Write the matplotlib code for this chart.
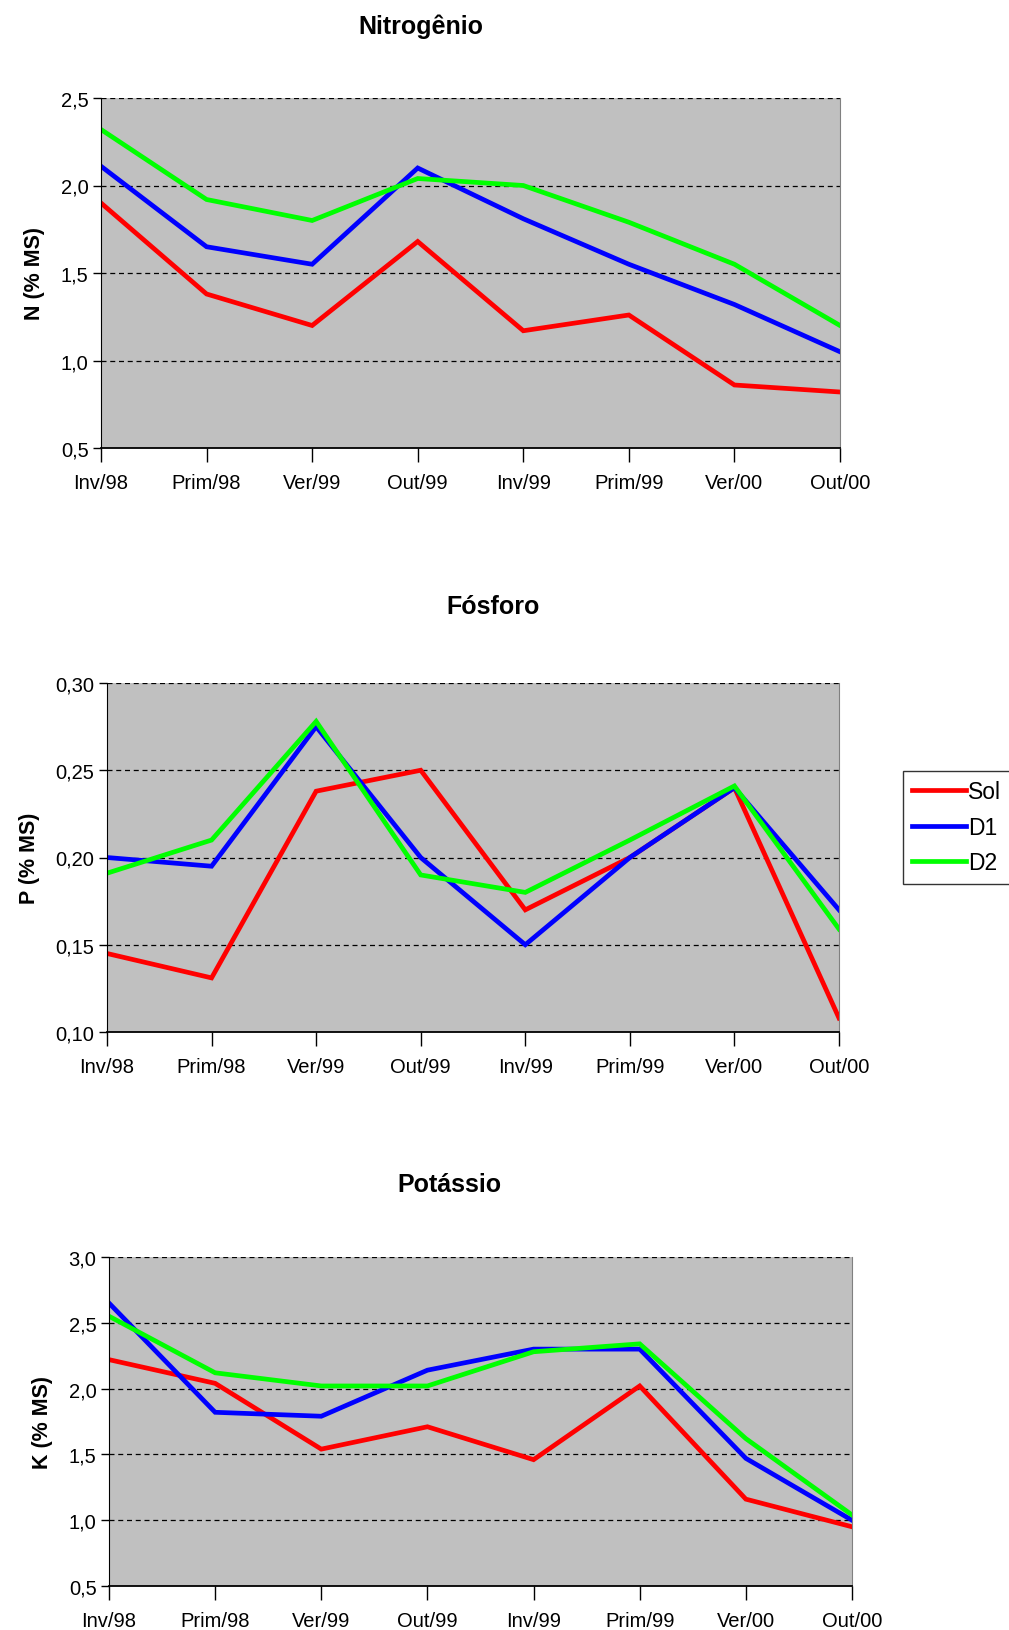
import numpy as np
import matplotlib.pyplot as plt
from matplotlib.lines import Line2D

plt.rcParams['font.family'] = ['Liberation Sans', 'DejaVu Sans']

periods = ['Inv/98', 'Prim/98', 'Ver/99', 'Out/99', 'Inv/99', 'Prim/99', 'Ver/00', 'Out/00']

# Nitrogenio (% MS)
n_sol = [1.90, 1.38, 1.20, 1.68, 1.17, 1.26, 0.86, 0.82]
n_d1 = [2.11, 1.65, 1.55, 2.10, 1.81, 1.55, 1.32, 1.05]
n_d2 = [2.32, 1.92, 1.80, 2.04, 2.00, 1.79, 1.55, 1.20]

# Fosforo (% MS)
p_sol = [0.145, 0.131, 0.238, 0.250, 0.170, 0.200, 0.240, 0.108]
p_d1 = [0.200, 0.195, 0.275, 0.200, 0.150, 0.200, 0.240, 0.170]
p_d2 = [0.191, 0.210, 0.278, 0.190, 0.180, 0.210, 0.241, 0.159]

# Potassio (% MS)
k_sol = [2.22, 2.04, 1.54, 1.71, 1.46, 2.02, 1.16, 0.95]
k_d1 = [2.65, 1.82, 1.79, 2.14, 2.30, 2.30, 1.47, 1.00]
k_d2 = [2.55, 2.12, 2.02, 2.02, 2.28, 2.34, 1.62, 1.04]

series_names = ['Sol', 'D1', 'D2']
colors = ['#FF0000', '#0000FF', '#00FF00']

W, H = 1009, 1631
fig = plt.figure(figsize=(W / 100, H / 100), dpi=100)


def px_axes(left, top, right, bottom):
    return fig.add_axes([left / W, 1 - bottom / H, (right - left) / W, (bottom - top) / H])


def draw_panel(ax, title, ylabel, data, yticks, fmt, title_x, title_y):
    x = np.arange(len(periods))
    ax.set_facecolor('#C0C0C0')
    for vals, c in zip(data, colors):
        ax.plot(x, vals, color=c, lw=3.4, solid_joinstyle='miter')
    ax.set_xlim(0, len(periods) - 1)
    ax.set_ylim(yticks[0], yticks[-1])
    ax.set_yticks(yticks)
    ax.set_yticklabels([fmt.format(v).replace('.', ',') for v in yticks])
    ax.set_xticks(x)
    ax.set_xticklabels(periods)
    for v in yticks[1:]:
        ax.axhline(v, color='black', lw=0.9, ls=(0, (4, 3)), zorder=0.5)
    ax.spines['top'].set_visible(False)
    ax.spines['right'].set_color('#808080')
    ax.spines['left'].set_color('black')
    ax.spines['bottom'].set_color('black')
    ax.spines['bottom'].set_linewidth(1.3)
    ax.tick_params(axis='x', direction='out', length=10, width=1, pad=8, labelsize=14.5)
    ax.tick_params(axis='y', direction='out', length=6, width=1, pad=3, labelsize=14.5)
    ax.set_ylabel(ylabel, fontsize=15.5, fontweight='bold', labelpad=11)
    fig.text(title_x / W, 1 - title_y / H, title, fontsize=18, fontweight='bold',
             ha='center', va='center')


ax1 = px_axes(101, 99, 840, 449)
draw_panel(ax1, 'Nitrogênio', 'N (% MS)', [n_sol, n_d1, n_d2],
           [0.5, 1.0, 1.5, 2.0, 2.5], '{:.1f}', 421, 27)

ax2 = px_axes(107, 684, 839, 1033)
draw_panel(ax2, 'Fósforo', 'P (% MS)', [p_sol, p_d1, p_d2],
           [0.10, 0.15, 0.20, 0.25, 0.30], '{:.2f}', 493, 607)

ax3 = px_axes(109, 1258, 852, 1587)
draw_panel(ax3, 'Potássio', 'K (% MS)', [k_sol, k_d1, k_d2],
           [0.5, 1.0, 1.5, 2.0, 2.5, 3.0], '{:.1f}', 449, 1185)

handles = [Line2D([], [], color=c, lw=3.4) for c in colors]
leg = fig.legend(handles, series_names, loc='upper left',
                 bbox_to_anchor=(903 / W, 1 - 772 / H), fontsize=16.5,
                 frameon=True, fancybox=False, edgecolor='black',
                 handlelength=2.35, handletextpad=0.1, borderpad=0.4,
                 borderaxespad=0, labelspacing=0.55)
leg.get_frame().set_linewidth(1.0)

fig.savefig('out.png', dpi=100)
